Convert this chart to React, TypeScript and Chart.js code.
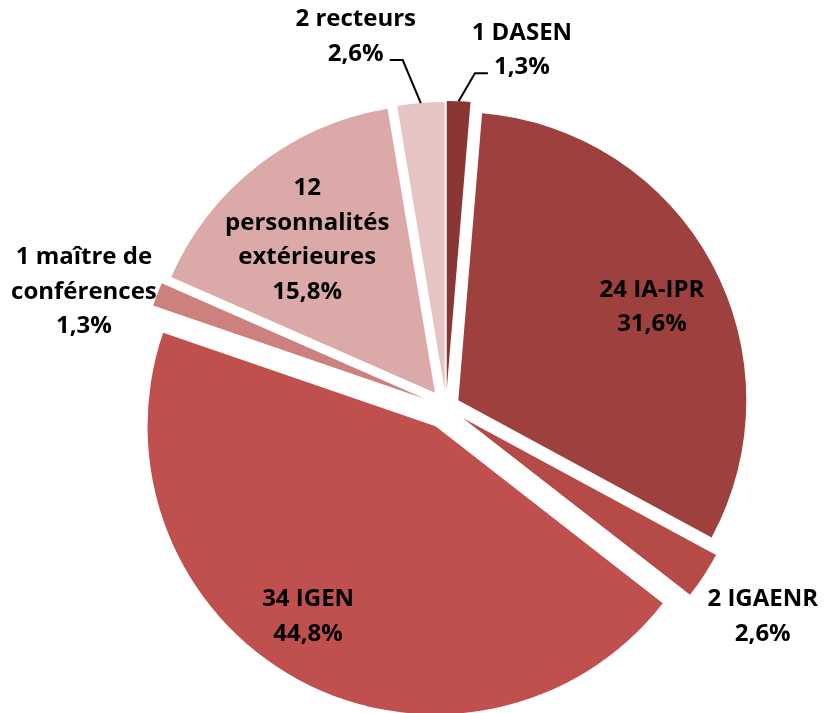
import React, { useEffect, useRef } from "react";
import { Chart, registerables } from "chart.js";

Chart.register(...registerables);

// ---- data ----
const CATEGORIES = [
  "DASEN",
  "IA-IPR",
  "IGAENR",
  "IGEN",
  "maître de conférences",
  "personnalités extérieures",
  "recteurs",
];
const COUNTS = [1, 24, 2, 34, 1, 12, 2];
const PERCENT_LABELS = ["1,3%", "31,6%", "2,6%", "44,8%", "1,3%", "15,8%", "2,6%"];

// ---- styles / layout ----
const COLORS = ["#8A3634", "#9D403E", "#B54A47", "#C0504D", "#CD817F", "#DAA9A8", "#E6C4C4"];
const EXPLODE = [18, 14, 20, 22, 22, 18, 17]; // px, along each slice's bisector
const LABEL_ANGLE = [12.0, 64.1, 123.5, 213.3, 287.6, 320.2, 346.3]; // deg clockwise from top
const LABEL_DIST = [1.267, 0.795, 1.319, 0.872, 1.319, 0.753, 1.323]; // x outer radius
const LEADER = [true, false, false, false, false, false, true];
const FONT = "bold 24px 'Open Sans'";
const LINE_H = 34.5;
const WRAP_W = 155;

function wrap(ctx: CanvasRenderingContext2D, text: string, maxW: number): string[] {
  const words = text.split(" ");
  const out: string[] = [];
  let line = "";
  for (const w of words) {
    const test = line ? line + " " + w : w;
    if (line && ctx.measureText(test).width > maxW) {
      out.push(line);
      line = w;
    } else {
      line = test;
    }
  }
  if (line) out.push(line);
  return out;
}

const explodePlugin = {
  id: "explodeSlices",
  afterDatasetsUpdate(chart: any) {
    const meta = chart.getDatasetMeta(0);
    meta.data.forEach((arc: any, i: number) => {
      const mid = (arc.startAngle + arc.endAngle) / 2;
      arc.x += Math.cos(mid) * EXPLODE[i];
      arc.y += Math.sin(mid) * EXPLODE[i];
    });
  },
};

const labelPlugin = {
  id: "sliceLabels",
  afterDatasetsDraw(chart: any) {
    const ctx: CanvasRenderingContext2D = chart.ctx;
    const meta = chart.getDatasetMeta(0);
    const ca = chart.chartArea;
    const cx = (ca.left + ca.right) / 2;
    const cy = (ca.top + ca.bottom) / 2;
    ctx.save();
    ctx.font = FONT;
    ctx.textAlign = "center";
    ctx.textBaseline = "middle";
    ctx.fillStyle = "#000";
    ctx.strokeStyle = "#000";
    ctx.lineWidth = 2;
    meta.data.forEach((arc: any, i: number) => {
      const R = arc.outerRadius;
      const a = ((LABEL_ANGLE[i] - 90) * Math.PI) / 180;
      const lx = cx + Math.cos(a) * LABEL_DIST[i] * R;
      const ly = cy + Math.sin(a) * LABEL_DIST[i] * R;
      const lines = wrap(ctx, `${COUNTS[i]} ${CATEGORIES[i]}`, WRAP_W).concat(PERCENT_LABELS[i]);
      const y0 = ly - ((lines.length - 1) * LINE_H) / 2;
      lines.forEach((t, k) => ctx.fillText(t, lx, y0 + k * LINE_H));
      if (LEADER[i]) {
        const mid = (arc.startAngle + arc.endAngle) / 2;
        const ex = arc.x + Math.cos(mid) * R;
        const ey = arc.y + Math.sin(mid) * R;
        const last = lines[lines.length - 1];
        const w = ctx.measureText(last).width;
        const side = ex > lx ? 1 : -1;
        const sx = lx + side * (w / 2 + 6);
        const sy = y0 + (lines.length - 1) * LINE_H + 6;
        ctx.beginPath();
        ctx.moveTo(sx, sy);
        ctx.lineTo(sx + side * 13, sy);
        ctx.lineTo(ex, ey);
        ctx.stroke();
      }
    });
    ctx.restore();
  },
};

export default function App() {
  const ref = useRef<HTMLCanvasElement | null>(null);
  useEffect(() => {
    if (!ref.current) return;
    const chart = new Chart(ref.current, {
      type: "pie",
      data: {
        labels: CATEGORIES,
        datasets: [
          {
            data: COUNTS,
            backgroundColor: COLORS,
            borderWidth: 0,
          },
        ],
      },
      options: {
        animation: false,
        responsive: false,
        maintainAspectRatio: false,
        events: [],
        radius: 288,
        layout: { padding: { left: 68, right: 0, top: 101, bottom: 0 } },
        plugins: {
          legend: { display: false },
          tooltip: { enabled: false },
        },
      } as any,
      plugins: [explodePlugin, labelPlugin],
    });
    return () => chart.destroy();
  }, []);
  return (
    <div style={{ position: "fixed", left: 0, top: 0, width: 824, height: 713, background: "#fff" }}>
      <canvas ref={ref} width={824} height={713} style={{ display: "block" }} />
    </div>
  );
}
